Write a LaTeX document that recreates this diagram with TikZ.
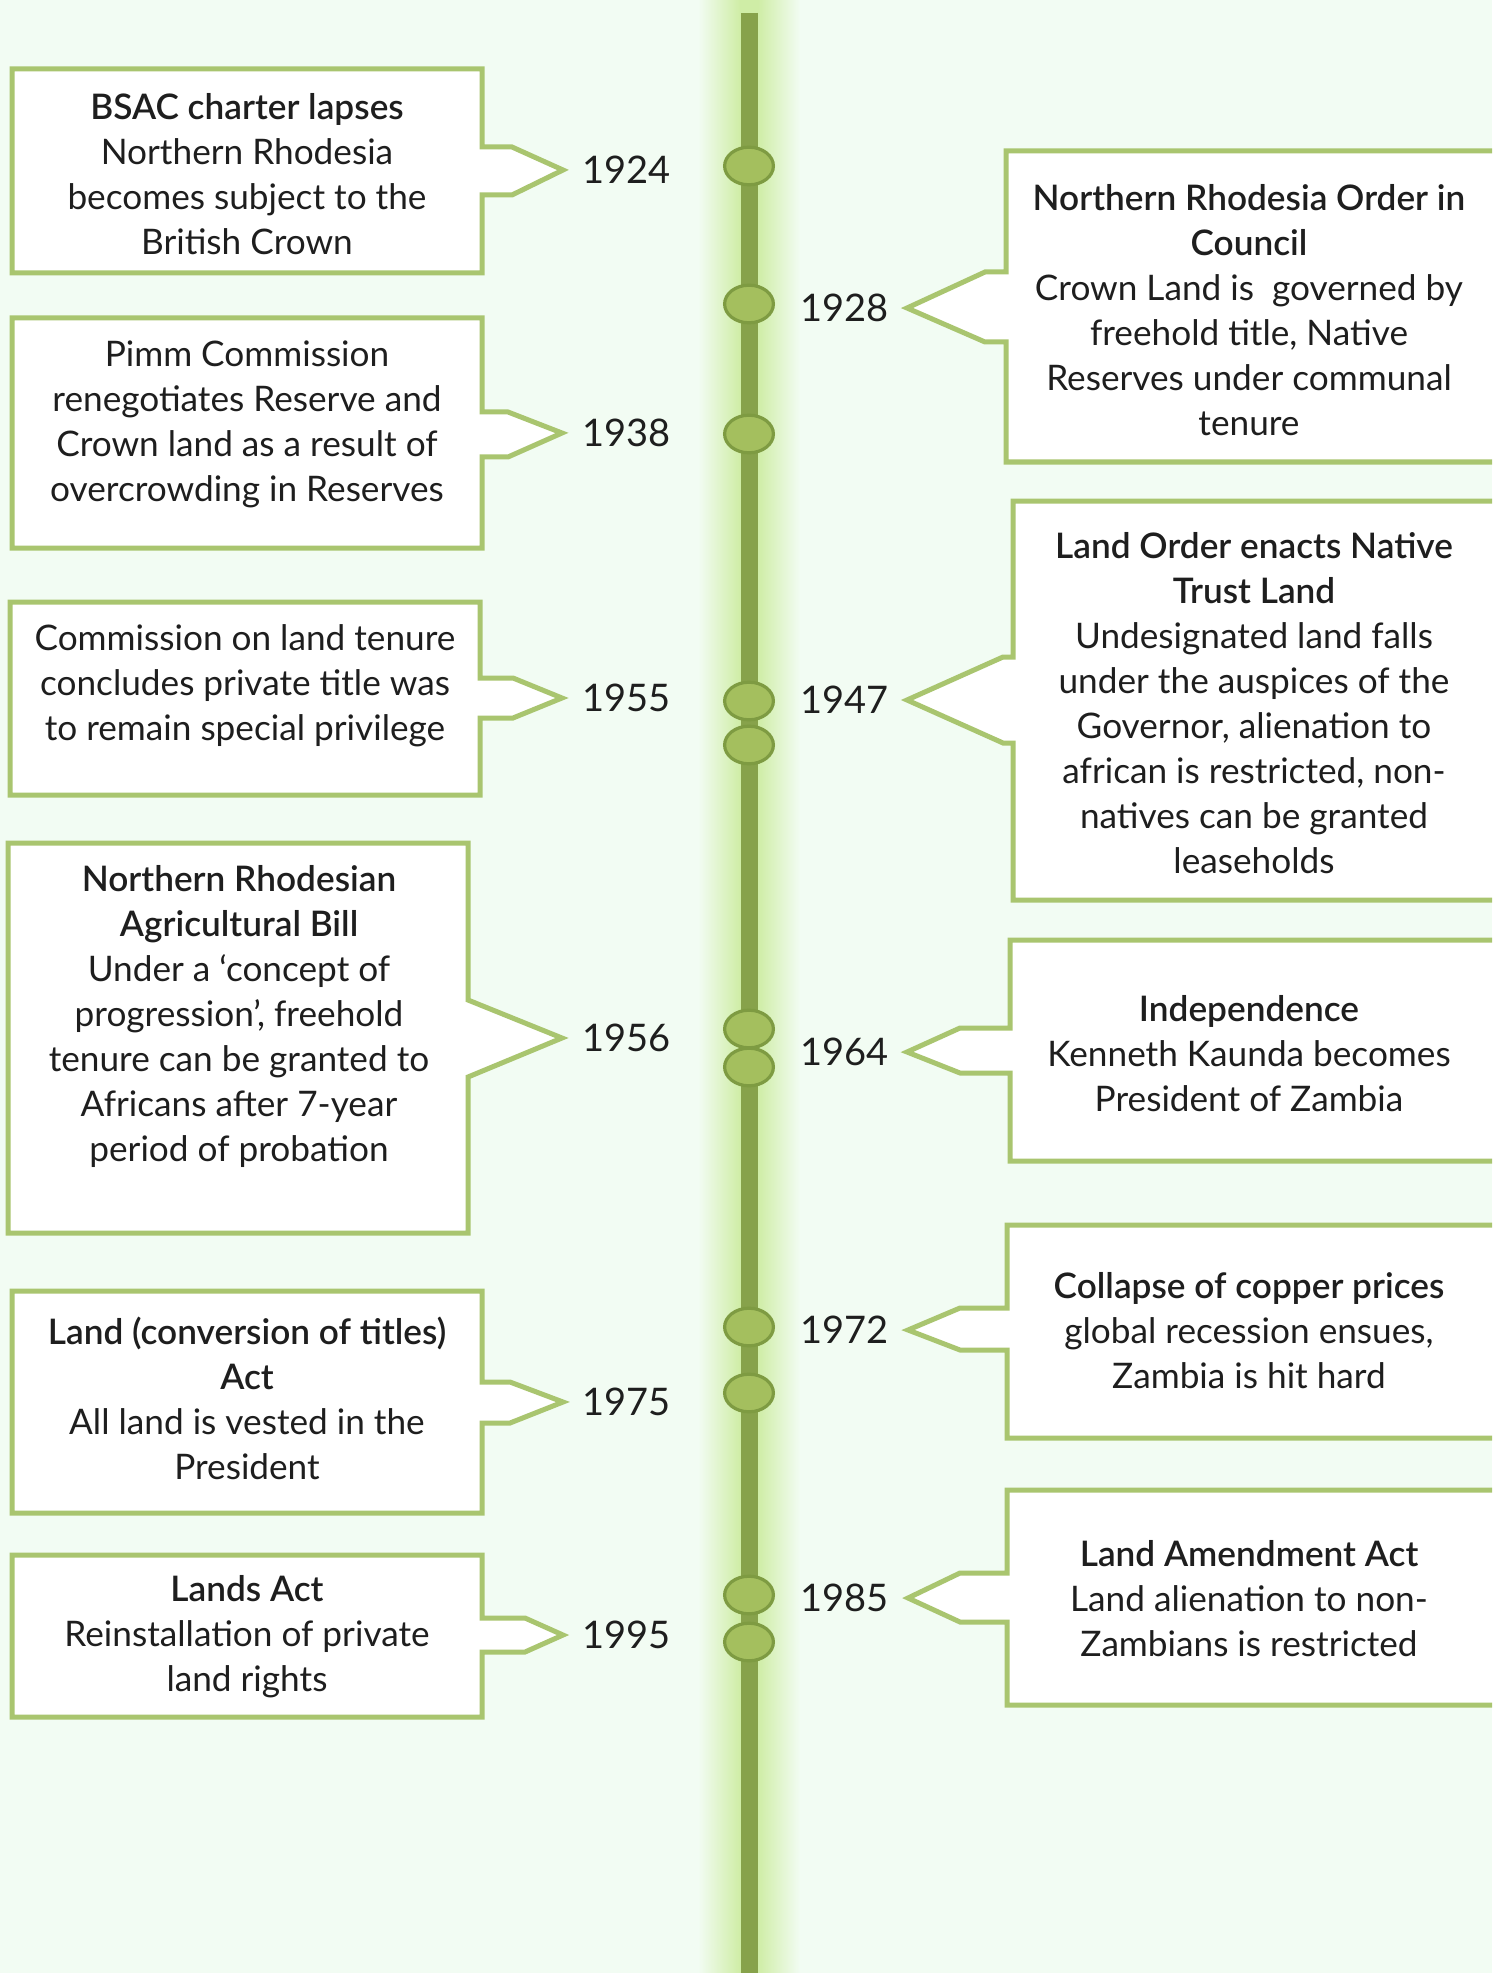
\documentclass[tikz,border=0pt]{standalone}
\usepackage{fontspec}
\setmainfont{Lato}
\newfontfamily\semibold{Lato Semibold}
\definecolor{bgmint}{HTML}{F2FCF3}
\definecolor{glowgreen}{HTML}{CFEDA6}
\definecolor{linegreen}{HTML}{87A24B}
\definecolor{dotfill}{HTML}{A4BF5E}
\definecolor{dotline}{HTML}{7E9B42}
\definecolor{boxline}{HTML}{A9C56F}
\definecolor{inkgray}{HTML}{1E1E1E}
\tikzset{
  callout/.style={draw=boxline, line width=2.5pt, fill=white},
  eventtext/.style={align=center, text=inkgray, inner sep=0pt,
    font=\fontsize{17.6}{22.5}\selectfont},
  yeartext/.style={anchor=west, text=inkgray, inner sep=0pt,
    font=\fontsize{19}{20}\selectfont},
  dot/.style={fill=dotfill, draw=dotline, line width=1.6pt}
}
\newcommand{\headline}[1]{{\semibold #1}}
\begin{document}
\begin{tikzpicture}[x=0.5pt,y=-0.5pt]
  \useasboundingbox (0,0) rectangle (1492,1973);
  \clip (0,0) rectangle (1492,1973);
  \fill[bgmint] (0,0) rectangle (1492,1973);
  % Draw glow and time line
  \shade[left color=bgmint, right color=glowgreen] (698,0) rectangle (740,1973);
  \fill[glowgreen] (740,0) rectangle (758,1973);
  \shade[left color=glowgreen, right color=bgmint] (758,0) rectangle (800,1973);
  \draw[linegreen, line width=8.5pt] (749,13) -- (749,1973);
  \foreach \y in {166,304,434,701,745,1029,1067,1327,1393,1595,1642}
    \filldraw[dot] (749,\y) ellipse [x radius=12.2pt, y radius=9.4pt];

  % Draw left callouts
  \draw[callout] (12,69) -- (482,69) -- (482,147) -- (512,147) -- (563,170)
        -- (512,195) -- (482,195) -- (482,273) -- (12,273) -- cycle;
  \draw[callout] (12,318) -- (482,318) -- (482,412) -- (508,412) -- (562,433)
        -- (508,457) -- (482,457) -- (482,548) -- (12,548) -- cycle;
  \draw[callout] (10,602) -- (480,602) -- (480,678) -- (513,678) -- (562,698)
        -- (513,718) -- (480,718) -- (480,795) -- (10,795) -- cycle;
  \draw[callout] (8,843) -- (468,843) -- (468,1000) -- (562,1038)
        -- (468,1077) -- (468,1233) -- (8,1233) -- cycle;
  \draw[callout] (12,1291) -- (482,1291) -- (482,1382) -- (510,1382) -- (563,1402)
        -- (510,1423) -- (482,1423) -- (482,1513) -- (12,1513) -- cycle;
  \draw[callout] (12,1555) -- (482,1555) -- (482,1618) -- (525,1618) -- (563,1635)
        -- (525,1652) -- (482,1652) -- (482,1717) -- (12,1717) -- cycle;

  % Draw right callouts
  \draw[callout] (1510,151) -- (1006,151) -- (1006,272) -- (985,272) -- (907,308)
        -- (985,342) -- (1006,342) -- (1006,462) -- (1510,462) -- cycle;
  \draw[callout] (1510,501) -- (1013,501) -- (1013,657) -- (1003,657) -- (907,700)
        -- (1003,743) -- (1013,743) -- (1013,900) -- (1510,900) -- cycle;
  \draw[callout] (1510,940) -- (1010,940) -- (1010,1028) -- (960,1028) -- (907,1052)
        -- (960,1073) -- (1010,1073) -- (1010,1161) -- (1510,1161) -- cycle;
  \draw[callout] (1510,1225) -- (1007,1225) -- (1007,1308) -- (960,1308) -- (908,1330)
        -- (960,1350) -- (1007,1350) -- (1007,1438) -- (1510,1438) -- cycle;
  \draw[callout] (1510,1490) -- (1007,1490) -- (1007,1573) -- (960,1573) -- (908,1598)
        -- (960,1622) -- (1007,1622) -- (1007,1705) -- (1510,1705) -- cycle;

  % Left texts
  \node[eventtext] (ev1924) at (247,174) {\headline{BSAC charter lapses}\\Northern Rhodesia\\becomes subject to the\\British Crown};
  \node[eventtext] (ev1938) at (247,424) {Pimm Commission\\renegotiates Reserve and\\Crown land as a result of\\overcrowding in Reserves};
  \node[eventtext] (ev1955) at (245,686) {Commission on land tenure\\concludes private title was\\to remain special privilege};
  \node[eventtext] (ev1956) at (239,1016) {\headline{Northern Rhodesian}\\\headline{Agricultural Bill}\\Under a `concept of\\progression', freehold\\tenure can be granted to\\Africans after 7-year\\period of probation};
  \node[eventtext] (ev1975) at (247,1398) {\headline{Land (conversion of titles)}\\\headline{Act}\\All land is vested in the\\President};
  \node[eventtext] (ev1995) at (247,1637) {\headline{Lands Act}\\Reinstallation of private\\land rights};

  % Right texts
  \node[eventtext] (ev1928) at (1249,310) {\headline{Northern Rhodesia Order in}\\\headline{Council}\\Crown Land is~ governed by\\freehold title, Native\\Reserves under communal\\tenure};
  \node[eventtext] (ev1947) at (1254,703) {\headline{Land Order enacts Native}\\\headline{Trust Land}\\Undesignated land falls\\under the auspices of the\\Governor, alienation to\\african is restricted, non-\\natives can be granted\\leaseholds};
  \node[eventtext] (ev1964) at (1249,1054) {\headline{Independence}\\Kenneth Kaunda becomes\\President of Zambia};
  \node[eventtext] (ev1972) at (1249,1331) {\headline{Collapse of copper prices}\\global recession ensues,\\Zambia is hit hard};
  \node[eventtext] (ev1985) at (1249,1599) {\headline{Land Amendment Act}\\Land alienation to non-\\Zambians is restricted};

  % Year labels
  \node[yeartext] (y1924) at (582,170) {1924};
  \node[yeartext] (y1938) at (582,433) {1938};
  \node[yeartext] (y1955) at (582,698) {1955};
  \node[yeartext] (y1956) at (582,1038) {1956};
  \node[yeartext] (y1975) at (582,1402) {1975};
  \node[yeartext] (y1995) at (582,1635) {1995};
  \node[yeartext] (y1928) at (800,308) {1928};
  \node[yeartext] (y1947) at (800,700) {1947};
  \node[yeartext] (y1964) at (800,1052) {1964};
  \node[yeartext] (y1972) at (800,1330) {1972};
  \node[yeartext] (y1985) at (800,1598) {1985};
\end{tikzpicture}
\end{document}
